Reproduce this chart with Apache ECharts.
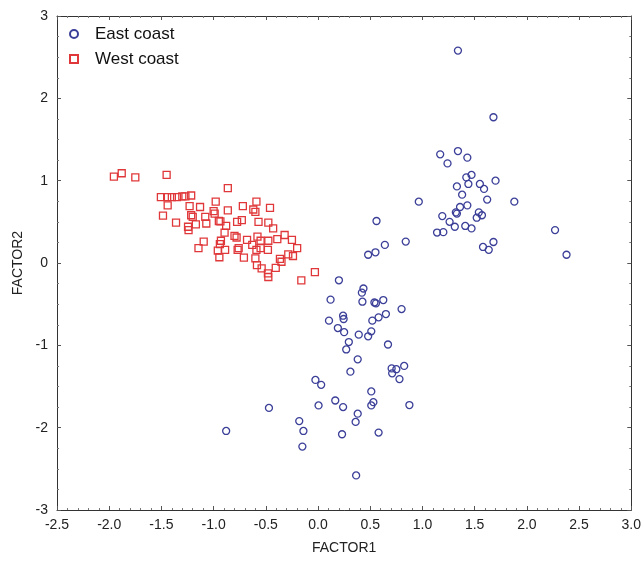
<!DOCTYPE html>
<html>
<head>
<meta charset="utf-8">
<script src="https://cdn.jsdelivr.net/npm/echarts@6/dist/echarts.min.js"></script>
<style>
  html, body { margin: 0; padding: 0; background: #fff; }
  #chart { width: 644px; height: 562px; }
</style>
</head>
<body>
<div id="chart"></div>
<script>
// factor scores, [FACTOR1, FACTOR2]
var eastCoast = [
  [1.34, 2.58], [1.68, 1.77], [1.17, 1.32], [1.34, 1.36], [1.43, 1.28], [1.24, 1.21],
  [1.47, 1.07], [1.42, 1.04], [1.70, 1.00], [1.44, 0.96], [1.33, 0.93], [1.55, 0.96],
  [1.59, 0.90], [1.38, 0.83], [1.62, 0.77], [0.965, 0.745], [1.88, 0.745], [1.43, 0.70],
  [1.36, 0.68], [1.32, 0.615], [1.33, 0.60], [1.54, 0.615], [1.57, 0.58], [1.52, 0.55],
  [1.19, 0.57], [1.26, 0.50], [1.31, 0.44], [1.41, 0.45], [1.47, 0.42], [1.14, 0.37],
  [1.20, 0.375], [2.27, 0.40], [0.84, 0.26], [0.64, 0.22], [0.56, 0.51], [0.48, 0.10],
  [0.55, 0.13], [1.68, 0.255], [1.58, 0.195], [1.635, 0.16], [2.38, 0.10],
  [0.20, -0.21], [0.435, -0.31], [0.42, -0.36], [0.12, -0.445], [0.425, -0.47],
  [0.54, -0.48], [0.555, -0.49], [0.625, -0.45], [0.80, -0.56], [0.65, -0.62],
  [0.58, -0.66], [0.52, -0.70], [0.24, -0.64], [0.245, -0.68], [0.105, -0.70],
  [0.19, -0.79], [0.25, -0.84], [0.39, -0.87], [0.51, -0.83], [0.48, -0.89],
  [0.295, -0.96], [0.27, -1.05], [0.67, -0.99], [0.38, -1.17], [0.31, -1.32],
  [0.705, -1.28], [0.75, -1.29], [0.71, -1.34], [0.825, -1.25], [0.78, -1.41],
  [-0.025, -1.42], [0.03, -1.48], [0.51, -1.56], [0.165, -1.67], [0.53, -1.69],
  [0.51, -1.73], [0.875, -1.725], [0.005, -1.73], [0.24, -1.75], [-0.47, -1.76],
  [0.38, -1.83], [0.36, -1.93], [-0.18, -1.92], [-0.14, -2.04], [-0.88, -2.04],
  [0.23, -2.08], [0.58, -2.06], [-0.15, -2.23], [0.365, -2.58]
]

var westCoast = [
  [-1.955, 1.05], [-1.88, 1.09], [-1.75, 1.04], [-1.45, 1.07], [-0.864, 0.91],
  [-1.505, 0.80], [-1.445, 0.80], [-1.40, 0.80], [-1.35, 0.80], [-1.30, 0.81],
  [-1.27, 0.81], [-1.215, 0.82], [-1.44, 0.70], [-1.23, 0.69], [-1.13, 0.68],
  [-0.98, 0.745], [-0.864, 0.64], [-1.0, 0.63], [-0.99, 0.60], [-1.485, 0.575],
  [-1.36, 0.49], [-1.215, 0.58], [-1.20, 0.56], [-1.08, 0.56], [-1.245, 0.44],
  [-1.24, 0.40], [-1.17, 0.47], [-1.07, 0.48], [-0.95, 0.51], [-0.88, 0.45],
  [-1.095, 0.26], [-1.145, 0.18], [-0.94, 0.23], [-0.96, 0.15], [-0.89, 0.16],
  [-0.945, 0.07], [-0.895, 0.37], [-0.80, 0.33], [-0.775, 0.50], [-0.59, 0.745],
  [-0.72, 0.69], [-0.62, 0.65], [-0.60, 0.62], [-0.46, 0.67], [-0.935, 0.505],
  [-0.73, 0.52], [-0.57, 0.50], [-0.476, 0.49], [-0.43, 0.42], [-0.78, 0.31],
  [-0.68, 0.28], [-0.58, 0.32], [-0.55, 0.27], [-0.476, 0.27], [-0.39, 0.29],
  [-0.32, 0.34], [-0.25, 0.28], [-0.93, 0.27], [-0.77, 0.16], [-0.76, 0.18],
  [-0.63, 0.22], [-0.59, 0.16], [-0.55, 0.18], [-0.48, 0.16], [-0.20, 0.18],
  [-0.285, 0.105], [-0.24, 0.085], [-0.365, 0.05], [-0.35, 0.015], [-0.405, -0.06],
  [-0.71, 0.065], [-0.60, 0.057], [-0.585, -0.025], [-0.54, -0.065], [-0.48, -0.125],
  [-0.476, -0.17], [-0.03, -0.11], [-0.16, -0.21]
]

var seriesNames = ['East coast', 'West coast']

var font = 'Arial, "Liberation Sans", sans-serif'
var frameLine = { show: true, onZero: false, lineStyle: { color: '#333', width: 1 } }

function frameAxis(extra) {
  var a = {
    axisLine: frameLine,
    axisTick: { show: true, inside: true, length: 4, lineStyle: { color: '#555' } },
    minorTick: { show: true, splitNumber: 5, length: 2, lineStyle: { color: '#777' } },
    splitLine: { show: false }
  }
  for (var k in extra) a[k] = extra[k]
  return a
}

var chart = echarts.init(document.getElementById('chart'))
chart.setOption({
  backgroundColor: '#fff',
  animation: false,
  textStyle: { fontFamily: font },
  grid: { left: 57, right: 8, top: 16, bottom: 52 },
  legend: {
    orient: 'vertical',
    left: 69,
    top: 24,
    itemWidth: 8,
    itemHeight: 8,
    itemGap: 5,
    padding: 0,
    textStyle: { fontSize: 17, color: '#111', lineHeight: 20, padding: [0, 0, 0, 12], fontFamily: font },
    data: seriesNames
  },
  xAxis: [
    frameAxis({
      type: 'value', min: -2.5, max: 3, interval: 0.5, position: 'bottom',
      name: 'FACTOR1', nameLocation: 'middle', nameGap: 31,
      nameTextStyle: { fontSize: 14, color: '#222' },
      axisLabel: { fontSize: 14, color: '#222', margin: 8, formatter: function (v) { return v.toFixed(1) } }
    }),
    frameAxis({
      type: 'value', min: -2.5, max: 3, interval: 0.5, position: 'top',
      axisLabel: { show: false }
    })
  ],
  yAxis: [
    frameAxis({
      type: 'value', min: -3, max: 3, interval: 1, position: 'left',
      name: 'FACTOR2', nameLocation: 'middle', nameGap: 32,
      nameTextStyle: { fontSize: 14, color: '#222' },
      axisLabel: { fontSize: 14, color: '#222', margin: 9 },
      minorTick: { show: true, splitNumber: 4, length: 2, lineStyle: { color: '#777' } }
    }),
    frameAxis({
      type: 'value', min: -3, max: 3, interval: 1, position: 'right',
      axisLabel: { show: false },
      minorTick: { show: true, splitNumber: 4, length: 2, lineStyle: { color: '#777' } }
    })
  ],
  series: [
    {
      name: seriesNames[0],
      type: 'scatter',
      symbol: 'circle',
      symbolSize: 7,
      data: eastCoast,
      itemStyle: { color: 'rgba(255,255,255,0)', borderColor: '#3b3f98', borderWidth: 1.3, opacity: 1 }
    },
    {
      name: seriesNames[1],
      type: 'scatter',
      symbol: 'rect',
      symbolSize: 7,
      data: westCoast,
      itemStyle: { color: 'rgba(255,255,255,0)', borderColor: '#e0383a', borderWidth: 1.3, opacity: 1 }
    }
  ]
})
</script>
</body>
</html>
